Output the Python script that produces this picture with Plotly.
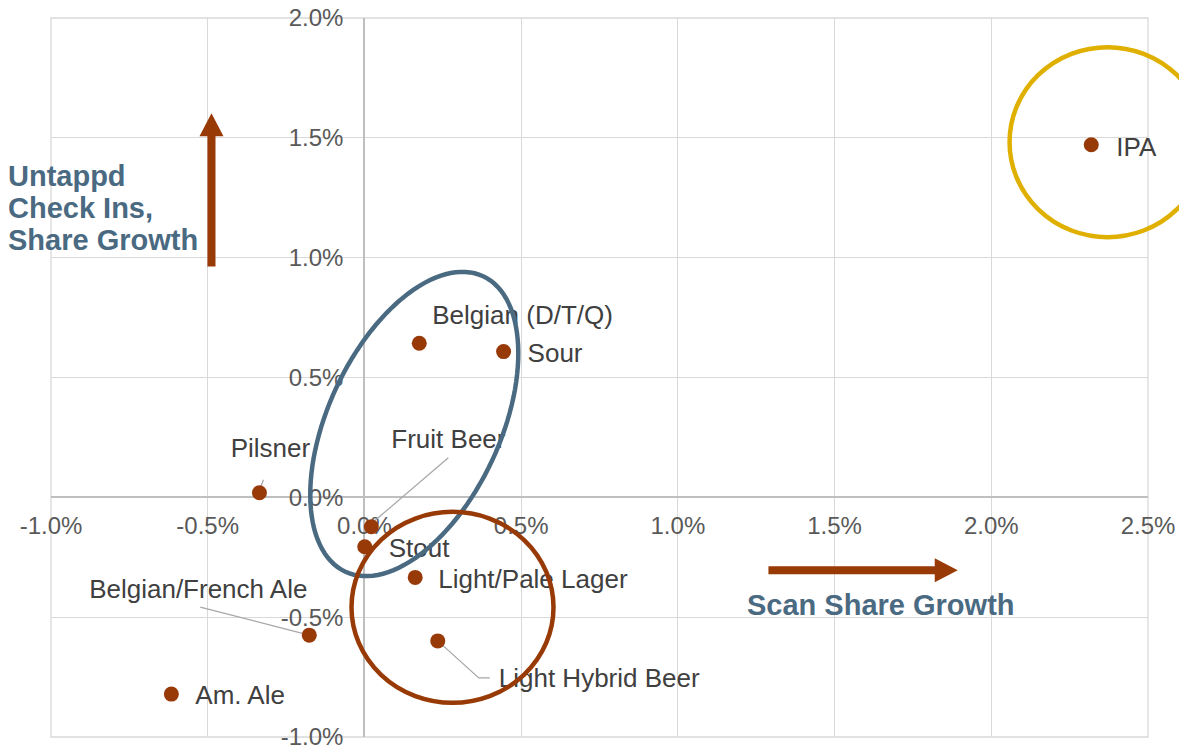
import math
import plotly.graph_objects as go

# ---- data: share growth by beer style (fractions, shown as %) ----
styles = ["IPA", "Belgian (D/T/Q)", "Sour", "Pilsner", "Fruit Beer", "Stout",
          "Light/Pale Lager", "Light Hybrid Beer", "Belgian/French Ale", "Am. Ale"]
scan_share_growth = [0.02319, 0.00175, 0.00444, -0.00335, 0.00022, 0.00001,
                     0.00162, 0.00234, -0.00176, -0.00616]
checkin_share_growth = [0.01471, 0.00643, 0.00608, 0.00019, -0.00123, -0.00206,
                        -0.00334, -0.00599, -0.00575, -0.00821]

x_ticks = [-0.01, -0.005, 0.0, 0.005, 0.01, 0.015, 0.02, 0.025]
y_ticks = [-0.01, -0.005, 0.0, 0.005, 0.01, 0.015, 0.02]
x_tick_text = [f"{v * 100:.1f}%" for v in x_ticks]
y_tick_text = [f"{v * 100:.1f}%" for v in y_ticks]

# ---- layout constants ----
W, H = 1179, 745
MARGIN = dict(l=51, r=31, t=18, b=8)
X_RANGE = (-0.01, 0.025)
Y_RANGE = (-0.01, 0.02)
PLOT_W = W - MARGIN["l"] - MARGIN["r"]
PLOT_H = H - MARGIN["t"] - MARGIN["b"]
PX_PER_X = PLOT_W / (X_RANGE[1] - X_RANGE[0])
PX_PER_Y = PLOT_H / (Y_RANGE[1] - Y_RANGE[0])

FONT = "Liberation Sans, Arial, sans-serif"
POINT_COLOR = "#983A08"
LABEL_COLOR = "#404040"
TICK_COLOR = "#595959"
BLUE = "#4A6A82"
BROWN = "#983A05"
GOLD = "#DFB000"
GRID = "#D9D9D9"
LEADER_COLOR = "#A6A6A6"
LABEL_SIZE = 26
TICK_SIZE = 24


def shift(x, y, dx_px, dy_px):
    """Move a data point by a screen offset in pixels (dy downwards)."""
    return x + dx_px / PX_PER_X, y - dy_px / PX_PER_Y


def to_paper(x, y):
    return ((x - X_RANGE[0]) / (X_RANGE[1] - X_RANGE[0]),
            (y - Y_RANGE[0]) / (Y_RANGE[1] - Y_RANGE[0]))


# label placement: (alignment, x offset of text edge/center, y offset of cap centre) in px
label_place = {
    "IPA": ("left", 25, 2),
    "Belgian (D/T/Q)": ("left", 13, -29),
    "Sour": ("left", 24, 1),
    "Pilsner": ("center", 11, -45),
    "Fruit Beer": ("left", 20, -88),
    "Stout": ("left", 24, 1),
    "Light/Pale Lager": ("left", 23, 1),
    "Light Hybrid Beer": ("left", 61, 37),
    "Belgian/French Ale": ("center", -111, -46),
    "Am. Ale": ("left", 24, 1),
}

# leader lines, as pixel offsets from the point
leaders = {
    "Pilsner": [(4, -13), (1, -5)],
    "Fruit Beer": [(77, -69), (1, -4)],
    "Light Hybrid Beer": [(0, 0), (41, 37), (52, 37)],
    "Belgian/French Ale": [(-109, -28), (-4, -1)],
}

fig = go.Figure()

# leader lines
for name, pts in leaders.items():
    i = styles.index(name)
    xs, ys = [], []
    for dx, dy in pts:
        lx, ly = shift(scan_share_growth[i], checkin_share_growth[i], dx, dy)
        xs.append(lx)
        ys.append(ly)
    fig.add_trace(go.Scatter(x=xs, y=ys, mode="lines",
                             line=dict(color=LEADER_COLOR, width=1.2),
                             hoverinfo="skip", showlegend=False))

# points
fig.add_trace(go.Scatter(
    x=scan_share_growth, y=checkin_share_growth, mode="markers",
    marker=dict(size=15, color=POINT_COLOR, line=dict(width=0)),
    text=styles, hoverinfo="text", showlegend=False, cliponaxis=False))

# data labels
pos_map = {"left": "middle right", "center": "middle center", "right": "middle left"}
for i, name in enumerate(styles):
    align, dx, dy = label_place[name]
    tx, ty = shift(scan_share_growth[i], checkin_share_growth[i], dx, dy + 0.108 * LABEL_SIZE)
    fig.add_trace(go.Scatter(
        x=[tx], y=[ty], mode="text", text=[name], textposition=pos_map[align],
        textfont=dict(family=FONT, size=LABEL_SIZE, color=LABEL_COLOR),
        hoverinfo="skip", showlegend=False, cliponaxis=False))


# ---- highlight ellipses ----
def ellipse_path(cx, cy, a_px, b_px, angle_deg, n=120):
    phi = math.radians(angle_deg)
    parts = []
    for k in range(n + 1):
        t = 2 * math.pi * k / n
        ex = a_px * math.cos(t) * math.cos(phi) - b_px * math.sin(t) * math.sin(phi)
        ey = a_px * math.cos(t) * math.sin(phi) + b_px * math.sin(t) * math.cos(phi)
        x = cx + ex / PX_PER_X
        y = cy + ey / PX_PER_Y
        parts.append(("M" if k == 0 else "L") + f"{x:.6f},{y:.6f}")
    return " ".join(parts) + " Z"


shapes = []
# plot-area frame in grid colour
shapes.append(dict(type="rect", xref="paper", yref="paper", layer="below",
                   x0=0, y0=0, x1=1, y1=1, line=dict(color=GRID, width=1.3)))
# tilted ellipse around the Belgian / Sour / Fruit Beer group
shapes.append(dict(type="path", xref="x", yref="y", layer="above",
                   path=ellipse_path(0.00159, 0.00306, 163, 86, 65),
                   line=dict(color=BLUE, width=4.5)))
# circle around the lager group
bx, by, brx, bry = 0.00281, -0.00459, 101, 95.5
shapes.append(dict(type="circle", xref="x", yref="y", layer="above",
                   x0=bx - brx / PX_PER_X, x1=bx + brx / PX_PER_X,
                   y0=by - bry / PX_PER_Y, y1=by + bry / PX_PER_Y,
                   line=dict(color=BROWN, width=4.5)))
# circle around IPA (runs past the plot edge, so placed in paper space)
gx, gy, grx, gry = 0.02371, 0.01482, 98, 95
gp0 = to_paper(gx - grx / PX_PER_X, gy - gry / PX_PER_Y)
gp1 = to_paper(gx + grx / PX_PER_X, gy + gry / PX_PER_Y)
shapes.append(dict(type="circle", xref="paper", yref="paper", layer="above",
                   x0=gp0[0], y0=gp0[1], x1=gp1[0], y1=gp1[1],
                   line=dict(color=GOLD, width=4.5)))


# ---- block arrows ----
def arrow_path(x0, y0, x1, y1, shaft=8, head_w=24, head_len=23):
    # work in pixel space (y up), then convert back to data units
    X0, Y0 = x0 * PX_PER_X, y0 * PX_PER_Y
    X1, Y1 = x1 * PX_PER_X, y1 * PX_PER_Y
    L = math.hypot(X1 - X0, Y1 - Y0)
    ux, uy = (X1 - X0) / L, (Y1 - Y0) / L
    nx, ny = -uy, ux
    bxp, byp = X1 - ux * head_len, Y1 - uy * head_len
    pts = [
        (X0 + nx * shaft / 2, Y0 + ny * shaft / 2),
        (bxp + nx * shaft / 2, byp + ny * shaft / 2),
        (bxp + nx * head_w / 2, byp + ny * head_w / 2),
        (X1, Y1),
        (bxp - nx * head_w / 2, byp - ny * head_w / 2),
        (bxp - nx * shaft / 2, byp - ny * shaft / 2),
        (X0 - nx * shaft / 2, Y0 - ny * shaft / 2),
    ]
    return " ".join(("M" if k == 0 else "L") + f"{px / PX_PER_X:.6f},{py / PX_PER_Y:.6f}"
                    for k, (px, py) in enumerate(pts)) + " Z"


shapes.append(dict(type="path", xref="x", yref="y", layer="above",
                   path=arrow_path(-0.00488, 0.00963, -0.00488, 0.01603),
                   fillcolor=BROWN, line=dict(width=0)))
shapes.append(dict(type="path", xref="x", yref="y", layer="above",
                   path=arrow_path(0.01289, -0.00304, 0.01893, -0.00304),
                   fillcolor=BROWN, line=dict(width=0)))

# ---- axis captions ----
annotations = []
bold = dict(family=FONT, size=29, color=BLUE)
annotations.append(dict(text="<b>Scan Share Growth</b>", x=0.01648, y=-0.0045,
                        xref="x", yref="y", xanchor="center", yanchor="middle",
                        showarrow=False, font=bold))
caption_x = to_paper(-0.01142, 0)[0]
for line, yc in zip(["Untappd", "Check Ins,", "Share Growth"],
                    [0.01341, 0.01207, 0.01075]):
    annotations.append(dict(text=f"<b>{line}</b>", x=caption_x, y=to_paper(0, yc)[1],
                            xref="paper", yref="paper", xanchor="left", yanchor="middle",
                            showarrow=False, font=bold))

axis_common = dict(
    showgrid=True, gridcolor=GRID, gridwidth=1.3,
    zeroline=True, zerolinecolor="#BFBFBF", zerolinewidth=1.6,
    showline=False, ticks="", anchor="free", layer="below traces",
    tickfont=dict(family=FONT, size=TICK_SIZE, color=TICK_COLOR),
    ticklabeloverflow="allow", automargin=False, fixedrange=True,
)

fig.update_layout(
    width=W, height=H, margin=dict(**MARGIN, pad=0, autoexpand=False),
    paper_bgcolor="white", plot_bgcolor="white",
    showlegend=False, hovermode=False,
    xaxis=dict(range=list(X_RANGE), tickvals=x_ticks, ticktext=x_tick_text,
               position=(0 - Y_RANGE[0]) / (Y_RANGE[1] - Y_RANGE[0]),
               ticklabelstandoff=12, **axis_common),
    yaxis=dict(range=list(Y_RANGE), tickvals=y_ticks, ticktext=y_tick_text,
               position=(0 - X_RANGE[0]) / (X_RANGE[1] - X_RANGE[0]),
               ticklabelstandoff=21, **axis_common),
    shapes=shapes, annotations=annotations,
)

fig.write_html("out.html", config={"displayModeBar": False})
